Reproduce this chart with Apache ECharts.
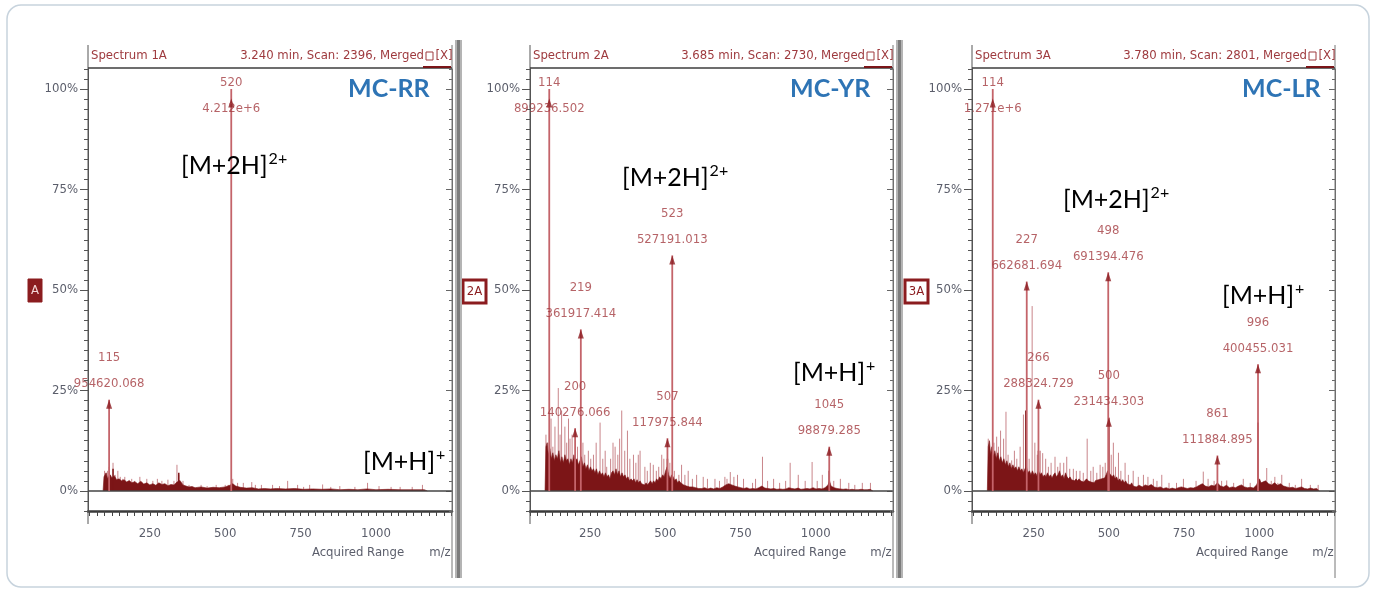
<!DOCTYPE html>
<html>
<head>
<meta charset="utf-8">
<script src="https://cdn.jsdelivr.net/npm/echarts@6/dist/echarts.min.js"></script>
<style>
  html, body { margin: 0; padding: 0; background: #fff; }
  #chart { width: 1375px; height: 589px; }
</style>
</head>
<body>
<div id="chart"></div>
<script>
// 三张质谱图 MC-RR / MC-YR / MC-LR

const panelNames = ['MC-RR', 'MC-YR', 'MC-LR'];
const spectrumTitles = ['Spectrum 1A', 'Spectrum 2A', 'Spectrum 3A'];
const scanInfo = ['3.240 min, Scan: 2396, Merged', '3.685 min, Scan: 2730, Merged', '3.780 min, Scan: 2801, Merged'];
const sideTags = ['A', '2A', '3A'];
const xTickLabels = [250, 500, 750, 1000];
const yTickLabels = [0, 25, 50, 75, 100];

// MC-RR  [m/z, 相对强度 %]
const rrFill = [[95,0],[98,3.5],[105,4.5],[110,3.0],[118,4.0],[125,3.2],[132,3.8],[140,2.8],[148,3.0],[156,2.5],[165,2.8],[173,2.2],[182,2.6],[190,2.0],[200,2.3],[210,1.8],[220,2.4],[230,1.7],[240,2.0],[250,1.5],[260,1.8],[270,1.4],[280,2.0],[290,1.6],[300,1.8],[310,1.3],[320,1.6],[330,1.5],[340,2.2],[350,2.6],[360,1.5],[370,1.2],[380,1.0],[390,1.1],[400,0.8],[420,1.0],[440,0.7],[460,0.9],[480,0.8],[500,1.0],[515,1.4],[525,1.8],[535,1.2],[550,0.9],[570,0.7],[590,0.8],[610,0.5],[630,0.6],[650,0.5],[670,0.6],[700,0.5],[730,0.6],[760,0.4],[790,0.5],[820,0.4],[850,0.5],[880,0.3],[910,0.4],[940,0.3],[970,0.5],[1000,0.3],[1040,0.4],[1080,0.3],[1120,0.3],[1160,0.3],[1170,0]];
const rrSticks = [[100,5],[105,4.5],[110,5],[115,6],[120,4],[128,7],[135,4],[144,5],[152,3.5],[160,3],[167,3.5],[190,3],[200,2.5],[217,3.5],[240,3],[260,2.5],[275,3],[290,2.5],[310,2.8],[330,2.5],[340,6.5],[346,4],[360,2.5],[380,1.5],[420,1.5],[440,1.2],[470,1.5],[500,1.5],[510,1.5],[525,3],[541,2],[560,2],[588,2.2],[600,1.5],[620,1.5],[657,1.5],[680,1.2],[707,2.5],[740,1.5],[760,1],[780,1.5],[823,1.6],[850,1],[880,1.2],[930,1],[972,2],[1010,1.2],[1050,1],[1080,1],[1120,1],[1154,1.5]];
const rrDark = [[128,5.5],[346,4.5]];
const rrPeakMz = [115, 520];
const rrPeakPct = [22.7, 100];
const rrPeakInt = ['954620.068', '4.212e+6'];

// MC-YR
const yrFill = [[100,0],[103,11],[107,12],[111,9],[116,10.5],[121,8],[126,9.5],[131,7.5],[136,9],[141,8],[146,10],[151,7],[156,8.5],[161,7],[166,9],[171,7.5],[176,8],[181,6.5],[186,8],[191,7],[196,9],[201,7.5],[206,8],[211,6.5],[216,7.5],[221,8.5],[226,6],[231,7],[236,5.5],[241,6.5],[246,5],[251,6],[256,5],[261,5.5],[266,4.5],[271,5.5],[276,4],[281,5],[286,4],[291,4.5],[296,3.5],[301,4.5],[306,3.5],[311,4],[316,3],[321,4.5],[326,5],[331,4],[336,5.5],[341,4],[346,5],[351,3.5],[356,4.5],[361,3.5],[366,4],[371,3],[376,3.5],[381,2.5],[386,3],[391,2.5],[396,3],[401,2],[406,2.8],[411,2],[416,2.5],[421,1.8],[426,2.2],[431,1.5],[436,2],[441,1.5],[446,2],[451,2.5],[456,1.8],[461,2.5],[466,2],[471,3],[476,2.5],[481,3.5],[486,3],[491,4],[496,3.5],[501,5],[506,6],[511,4],[516,3],[521,4],[526,3.5],[531,2.5],[536,3],[541,2],[546,2.5],[551,2],[556,2.2],[561,1.5],[566,1.8],[571,1.2],[576,1.5],[581,1],[586,1.3],[591,1],[596,1.2],[601,0.8],[606,1],[611,0.6],[616,0.9],[621,0.6],[631,0.8],[641,0.5],[651,0.7],[661,0.5],[671,0.8],[681,0.6],[691,1],[701,1.5],[711,1.8],[721,1.5],[731,1.2],[741,1],[751,0.8],[761,0.6],[771,0.8],[781,0.5],[791,0.6],[801,0.5],[811,0.8],[821,1.2],[831,0.7],[841,0.6],[851,0.5],[861,0.6],[871,0.4],[881,0.5],[891,0.4],[901,0.5],[911,0.8],[921,0.6],[931,0.5],[941,0.7],[951,0.4],[961,0.5],[971,0.6],[981,0.5],[991,0.8],[1001,0.5],[1011,0.6],[1021,0.5],[1031,0.8],[1041,1.5],[1046,2.5],[1051,1.2],[1061,0.8],[1071,0.6],[1081,0.5],[1091,0.4],[1101,0.5],[1111,0.3],[1121,0.4],[1131,0.3],[1141,0.3],[1151,0.4],[1161,0.3],[1171,0.3],[1181,0.4],[1190,0]];
const yrSticks = [[103,14],[110,12],[120,18],[126,11],[133,16],[144,25.6],[150,14],[155,20],[166,16],[172,12],[178,18],[183,13],[190,14],[208,11],[226,12],[232,9],[244,10],[252,8],[261,9],[270,12],[283,17],[292,8],[300,10],[305,6],[318,8],[326,12],[333,11],[342,9],[348,13],[355,20],[365,10],[374,15],[382,8],[394,9],[402,7],[410,9],[416,10],[432,6],[440,5],[450,7],[460,6.5],[470,5],[478,6],[488,9],[495,8],[515,7],[530,5],[545,4],[554,6.5],[565,4],[576,5],[590,3],[604,4],[626,3.5],[640,3],[665,3],[680,2.5],[698,3.5],[705,3],[716,4.7],[728,3.5],[740,4],[760,3],[790,2],[800,3],[823,8.5],[840,2.5],[860,3],[880,2],[900,2.5],[915,7],[942,4],[965,2.5],[988,7.2],[1005,2.5],[1022,4],[1060,2.5],[1082,3],[1110,2],[1130,1.5],[1155,2],[1182,2]];
const yrDark = [[507,8],[1045,5]];
const yrPeakMz = [114, 200, 219, 507, 523, 1045];
const yrPeakPct = [100, 15.6, 40.2, 13.1, 58.6, 11.0];
const yrPeakInt = ['899236.502', '140276.066', '361917.414', '117975.844', '527191.013', '98879.285'];

// MC-LR
const lrFill = [[96,0],[99,11],[103,12.5],[107,9],[111,11],[116,8.5],[121,10],[126,8],[131,9.5],[136,7.5],[141,8.5],[146,7],[151,8],[156,6.5],[161,7.5],[166,6],[171,7],[176,5.5],[181,6.5],[186,5.5],[191,6],[196,5],[201,6],[206,5],[211,5.5],[216,4.5],[221,5.5],[226,6],[231,4.5],[236,5],[241,4],[246,5],[251,4],[256,4.5],[261,3.8],[266,5],[271,4],[276,4.5],[281,3.5],[286,4],[291,3.5],[296,4.5],[301,3.5],[306,4],[311,3.2],[316,4],[321,4.5],[326,3.5],[331,4],[336,5],[341,3.5],[346,4],[351,3],[356,4.5],[361,3.5],[366,3],[371,3.5],[376,2.8],[381,3.2],[386,2.5],[391,3],[396,2.5],[401,3],[406,2.5],[411,2.8],[416,2.2],[421,2.6],[426,3],[431,2.5],[436,2.8],[441,2.2],[446,2.5],[451,2],[456,2.6],[461,2.2],[466,2.8],[471,2.4],[476,3],[481,2.6],[486,3.2],[491,4],[496,5],[501,4.5],[506,4],[511,3.5],[516,4],[521,3],[526,3.5],[531,2.5],[536,3],[541,2.2],[546,2.8],[551,2],[556,2.5],[561,1.8],[566,2.2],[571,1.5],[576,2],[581,1.2],[586,1.6],[591,1],[601,1.4],[611,1],[621,1.5],[631,1.2],[641,1.6],[651,1],[661,0.8],[671,1],[681,0.6],[691,0.8],[701,0.5],[711,0.7],[721,0.5],[731,0.8],[741,1],[751,0.8],[761,0.6],[771,0.8],[781,0.7],[791,1],[801,1.4],[811,1.8],[821,1.2],[831,1],[841,1.4],[851,1.2],[861,2],[871,1.2],[881,1],[891,1.4],[901,0.8],[911,1],[921,0.8],[931,1.2],[941,1.5],[951,1],[961,0.8],[971,0.9],[981,0.7],[991,1.5],[1001,3],[1006,2],[1011,1.8],[1021,2.5],[1031,1.8],[1041,1.5],[1051,2],[1061,1.4],[1071,1.8],[1081,1.2],[1091,1],[1101,0.8],[1111,0.9],[1121,0.6],[1131,0.8],[1141,1],[1151,0.6],[1161,0.5],[1171,0.7],[1181,0.5],[1191,0.6],[1200,0]];
const lrSticks = [[99,13],[105,10],[118,12],[127,13.5],[133,11],[140,15],[150,13],[158,19.7],[165,9],[177,7.6],[186,10],[194,8],[205,11],[216,19],[235,8],[245,46],[254,12],[262,9],[272,10],[280,9.4],[290,8],[299,6],[308,7],[321,8.5],[330,6],[338,7],[350,7],[360,8.5],[370,5.5],[382,5.5],[392,5],[404,5],[415,4.5],[428,13],[440,5],[448,6],[460,4.5],[471,6.5],[480,6],[488,7],[508,9],[515,12],[522,6],[532,9.5],[540,5],[554,7],[565,4],[581,5],[598,3.5],[615,4],[630,3.5],[648,3],[660,2.5],[676,4],[700,2],[725,2],[748,3],[790,2.5],[814,4.8],[830,3],[850,2.5],[875,2.5],[892,2.6],[915,2],[947,3],[970,2],[1025,5.7],[1040,2.5],[1052,3.5],[1062,2],[1075,4],[1100,2],[1120,1.5],[1141,3],[1170,1.5],[1196,1.5]];
const lrDark = [[224,20],[266,10],[500,18.2],[996,17]];
const lrPeakMz = [114, 227, 266, 498, 500, 861, 996];
const lrPeakPct = [100, 52.1, 22.7, 54.4, 18.2, 8.8, 31.5];
const lrPeakInt = ['1.271e+6', '662681.694', '288324.729', '691394.476', '231434.303', '111884.895', '400455.031'];

const panels = [
  { fill: rrFill, sticks: rrSticks, dark: rrDark, mz: rrPeakMz, pct: rrPeakPct, ints: rrPeakInt },
  { fill: yrFill, sticks: yrSticks, dark: yrDark, mz: yrPeakMz, pct: yrPeakPct, ints: yrPeakInt },
  { fill: lrFill, sticks: lrSticks, dark: lrDark, mz: lrPeakMz, pct: lrPeakPct, ints: lrPeakInt }
];

// 版面位置
const layout = [
  { left: 88, width: 364, min: 45, max: 1252, nameX: 348, tag: [28, 279, 14, 23], m2h: [181, 166], mh: [363, 462] },
  { left: 530, width: 363, min: 50, max: 1257, nameX: 790, tag: [463, 280, 23, 23], m2h: [622, 178], mh: [793, 373] },
  { left: 972, width: 363, min: 45, max: 1252, nameX: 1242, tag: [905, 280, 23, 23], m2h: [1063, 200], mh: [1222, 296] }
];
const separators = [455, 896];

const NARROW = "'Liberation Sans Narrow','DejaVu Sans Condensed','Arial Narrow',sans-serif";
const DARK = '#7c1517';
const LIGHT = '#c9858a';
const PEAK = '#c4646a';
const LABEL = '#a43c41';
const HEADER = '#9e3a3e';
const AXIS_TEXT = '#5b5e6b';

function steps(a, b, s) {
  const r = [];
  for (let v = a; v <= b + 1e-9; v += s) r.push(+v.toFixed(2));
  return r;
}
const yMinor = steps(-5, 105, 2.5);
const xMinor = steps(50, 1250, 25);

function stickSeries(i, data, color, width, z) {
  return {
    type: 'custom', xAxisIndex: i, yAxisIndex: 4 * i, z, silent: true,
    encode: { x: 0, y: 1 },
    data,
    renderItem: (params, api) => {
      const top = api.coord([api.value(0), api.value(1)]);
      const bot = api.coord([api.value(0), 0]);
      return {
        type: 'line',
        shape: { x1: top[0], y1: top[1], x2: bot[0], y2: bot[1] },
        style: { stroke: color, lineWidth: width }
      };
    }
  };
}

const option = {
  animation: false,
  backgroundColor: '#fff',
  grid: [], xAxis: [], yAxis: [], series: [], graphic: []
};

panels.forEach((p, i) => {
  const L = layout[i];
  const right = L.left + L.width;
  option.grid.push({ left: L.left, top: 69, width: L.width, height: 442 });
  option.xAxis.push({
    type: 'value', gridIndex: i, min: L.min, max: L.max, position: 'bottom',
    axisLine: { onZero: false, lineStyle: { color: '#3a3a3a', width: 2.5 } },
    axisTick: { customValues: xMinor, length: 5, lineStyle: { color: '#444' } },
    axisLabel: { customValues: xTickLabels, formatter: v => String(v), color: AXIS_TEXT, fontFamily: NARROW, fontSize: 13, margin: 16 },
    splitLine: { show: false }
  });
  const base = { type: 'value', gridIndex: i, min: -5, max: 105, splitLine: { show: false } };
  option.yAxis.push(
    { ...base, position: 'left',
      axisLine: { show: true, onZero: false, lineStyle: { color: '#555' } },
      axisTick: { customValues: yMinor, length: 4, lineStyle: { color: '#555' } },
      axisLabel: { customValues: yTickLabels, formatter: '{value}%', color: AXIS_TEXT, fontFamily: NARROW, fontSize: 13, margin: 10 } },
    { ...base, position: 'left', axisLine: { show: false },
      axisTick: { customValues: yTickLabels, length: 8, lineStyle: { color: '#555' } }, axisLabel: { show: false } },
    { ...base, position: 'right',
      axisLine: { show: true, onZero: false, lineStyle: { color: '#666' } },
      axisTick: { inside: true, customValues: yMinor, length: 3, lineStyle: { color: '#666' } }, axisLabel: { show: false } },
    { ...base, position: 'right', axisLine: { show: false },
      axisTick: { inside: true, customValues: yTickLabels, length: 6, lineStyle: { color: '#666' } }, axisLabel: { show: false } }
  );

  const peakData = p.mz.map((m, k) => [m, p.pct[k]]);
  option.series.push(
    stickSeries(i, p.sticks, LIGHT, 1, 2),
    {
      type: 'line', xAxisIndex: i, yAxisIndex: 4 * i, z: 3, silent: true,
      data: p.fill, symbol: 'none',
      lineStyle: { width: 0.6, color: DARK },
      areaStyle: { color: DARK, opacity: 1 },
      markLine: {
        silent: true, symbol: ['none', 'none'], label: { show: false },
        lineStyle: { color: '#444', width: 1.5, type: 'solid' },
        data: [{ yAxis: 0 }]
      }
    },
    stickSeries(i, p.dark, DARK, 1.5, 4),
    stickSeries(i, peakData, PEAK, 1.8, 5),
    {
      type: 'scatter', xAxisIndex: i, yAxisIndex: 4 * i, z: 6, silent: true,
      symbol: 'triangle', symbolSize: [6, 9],
      itemStyle: { color: '#8c1c20' },
      label: {
        show: true, position: 'top', distance: 3,
        color: LABEL, fontFamily: NARROW, fontSize: 13, lineHeight: 26,
        formatter: q => q.value[0] + '\n' + q.name
      },
      data: p.mz.map((m, k) => {
        const item = { value: [m, p.pct[k]], name: p.ints[k], symbolOffset: [0, 4.5] };
        if (p.pct[k] >= 99) {
          item.symbolOffset = [0, 14];
          item.label = { offset: [0, 26] };
        }
        return item;
      })
    }
  );

  // 面板框线与标题栏
  const g = option.graphic;
  g.push(
    { type: 'line', shape: { x1: L.left, y1: 45, x2: L.left, y2: 524 }, style: { stroke: '#555', lineWidth: 1 }, z: 100 },
    { type: 'line', shape: { x1: right, y1: 45, x2: right, y2: 578 }, style: { stroke: '#777', lineWidth: 1 }, z: 100 },
    { type: 'line', shape: { x1: L.left, y1: 68, x2: right, y2: 68 }, style: { stroke: '#3c3c3c', lineWidth: 1.5 }, z: 100 },
    { type: 'text', x: L.left + 3, y: 56, z: 100, style: { text: spectrumTitles[i], fill: HEADER, font: '13px ' + NARROW, align: 'left', verticalAlign: 'middle' } },
    { type: 'text', x: right - 28, y: 56, z: 100, style: { text: scanInfo[i], fill: HEADER, font: '13px ' + NARROW, align: 'right', verticalAlign: 'middle' } },
    { type: 'rect', shape: { x: right - 26, y: 52, width: 7, height: 8 }, style: { fill: 'none', stroke: HEADER, lineWidth: 1 }, z: 100 },
    { type: 'text', x: right - 8, y: 56, z: 100, style: { text: '[X]', fill: HEADER, font: '13px ' + NARROW, align: 'center', verticalAlign: 'middle' } },
    { type: 'line', shape: { x1: right - 29, y1: 67, x2: right - 1, y2: 67 }, style: { stroke: '#7a1518', lineWidth: 2 }, z: 101 },
    { type: 'text', x: L.left + 270, y: 553, z: 100, style: { text: 'Acquired Range', fill: AXIS_TEXT, font: '13px ' + NARROW, align: 'center', verticalAlign: 'middle' } },
    { type: 'text', x: right - 12, y: 553, z: 100, style: { text: 'm/z', fill: AXIS_TEXT, font: '13px ' + NARROW, align: 'center', verticalAlign: 'middle' } },
    { type: 'text', x: L.nameX, y: 89, z: 100, style: { text: panelNames[i], fill: '#2e74b5', font: 'bold 25px Lato', align: 'left', verticalAlign: 'middle' } },
    { type: 'text', x: L.m2h[0], y: L.m2h[1], z: 100,
      style: { text: '{b|[M+2H]}{s|2+}', fill: '#000', align: 'left', verticalAlign: 'middle',
        rich: { b: { fontFamily: 'Lato', fontSize: 25, lineHeight: 30 }, s: { fontFamily: 'Lato', fontSize: 16, lineHeight: 30, verticalAlign: 'top', padding: [0, 0, 0, 1] } } } },
    { type: 'text', x: L.mh[0], y: L.mh[1], z: 100,
      style: { text: '{b|[M+H]}{s|+}', fill: '#000', align: 'left', verticalAlign: 'middle',
        rich: { b: { fontFamily: 'Lato', fontSize: 25, lineHeight: 30 }, s: { fontFamily: 'Lato', fontSize: 16, lineHeight: 30, verticalAlign: 'top', padding: [0, 0, 0, 1] } } } }
  );
  const t = L.tag;
  const filled = i === 0;
  g.push(
    { type: 'rect', shape: { x: t[0], y: t[1], width: t[2], height: t[3] }, z: 100,
      style: { fill: filled ? '#8b1c1f' : '#fff', stroke: '#8b1c1f', lineWidth: filled ? 1 : 3 } },
    { type: 'text', x: t[0] + t[2] / 2, y: t[1] + t[3] / 2, z: 101,
      style: { text: sideTags[i], fill: filled ? '#f3d6d6' : '#8b1c1f', font: '13px ' + NARROW, align: 'center', verticalAlign: 'middle' } }
  );
});

separators.forEach(x => {
  option.graphic.push(
    { type: 'rect', shape: { x: x, y: 40, width: 7, height: 538 }, style: { fill: '#b4b4b4' }, z: 100 },
    { type: 'rect', shape: { x: x + 2, y: 40, width: 3, height: 538 }, style: { fill: '#7c7c7c' }, z: 100 }
  );
});
option.graphic.push({
  type: 'rect', shape: { x: 7, y: 5, width: 1362, height: 582, r: 14 },
  style: { fill: 'none', stroke: '#c7d3dd', lineWidth: 1.5 }, z: 99
});

const chart = echarts.init(document.getElementById('chart'));
chart.setOption(option);
window.addEventListener('resize', () => chart.resize());
</script>
</body>
</html>
